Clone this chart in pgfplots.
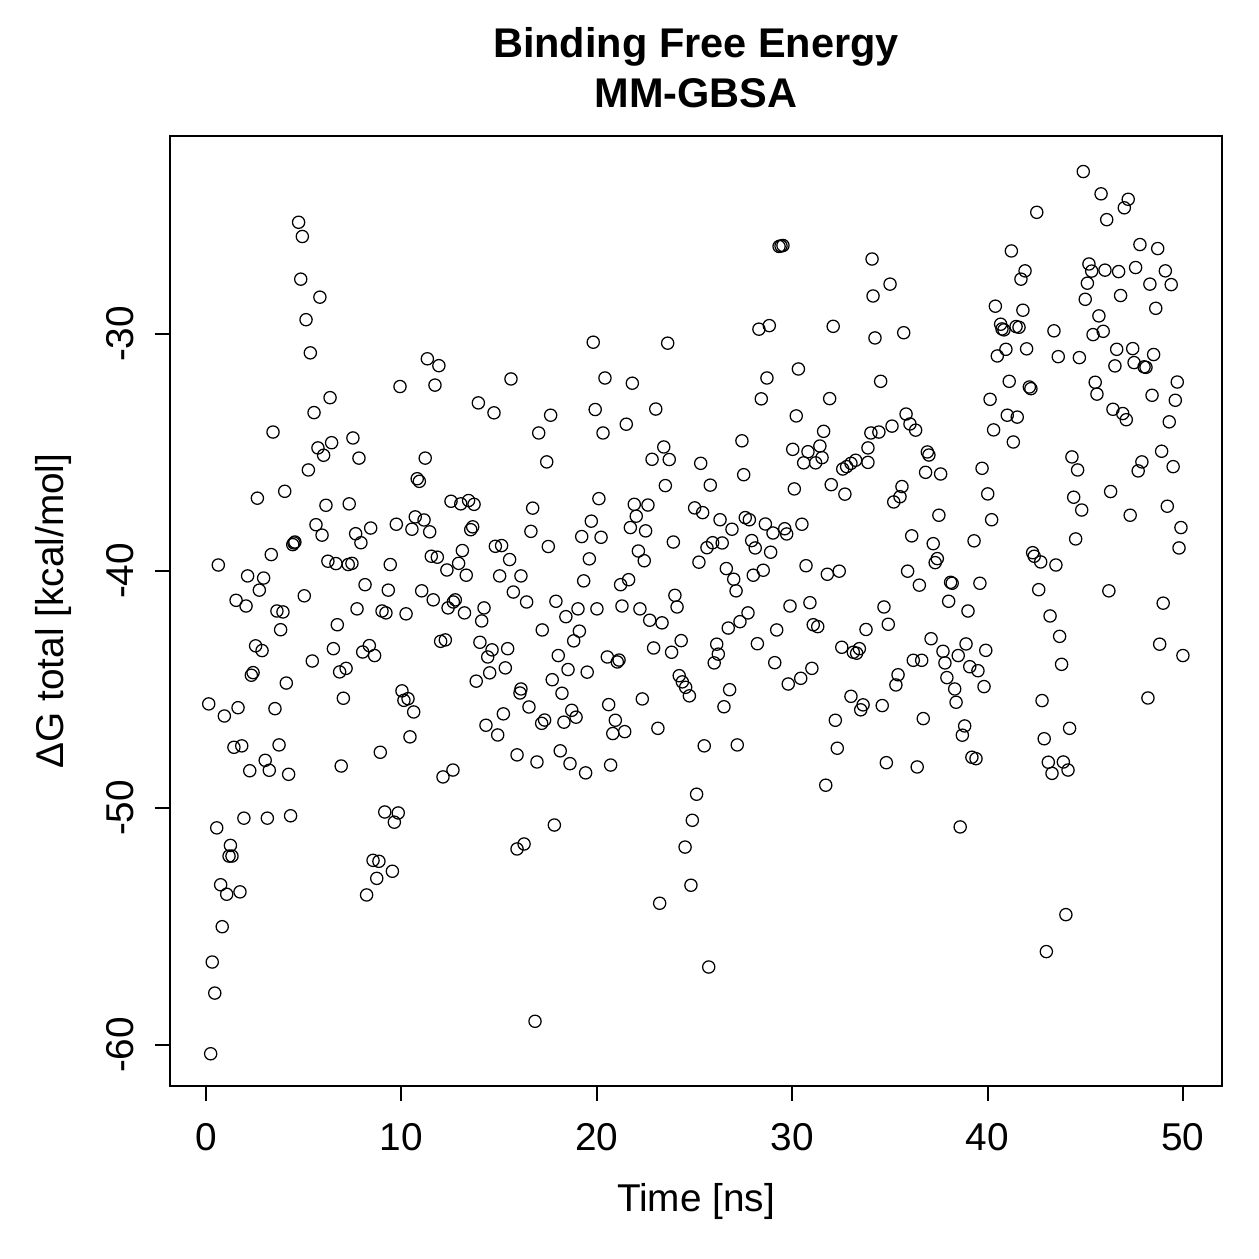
\documentclass[border=0pt]{standalone}
\usepackage{fontspec}
\setmainfont{Liberation Sans}
\usepackage{pgfplots}
\pgfplotsset{compat=1.18}
\usepackage{pgfplotstable}
\pgfplotstableread{
x y
4.74 -25.29
4.93 -25.89
4.85 -27.69
5.83 -28.45
5.12 -29.40
5.34 -30.80
11.33 -31.05
11.92 -31.34
15.61 -31.90
19.82 -30.35
23.63 -30.39
29.33 -26.31
29.43 -26.29
29.53 -26.27
28.30 -29.80
28.83 -29.65
32.10 -29.68
30.32 -31.48
20.42 -31.86
28.71 -31.86
34.09 -26.84
34.14 -28.40
34.24 -30.17
35.01 -27.90
35.71 -29.95
41.22 -26.50
42.52 -24.87
44.90 -23.15
45.81 -24.09
47.20 -24.32
47.00 -24.68
46.10 -25.18
47.80 -26.23
48.71 -26.40
41.92 -27.34
41.71 -27.69
40.40 -28.83
41.81 -29.00
40.67 -29.59
40.74 -29.79
40.84 -29.83
41.46 -29.69
41.61 -29.72
43.40 -29.87
45.19 -27.05
45.33 -27.35
46.01 -27.31
46.71 -27.37
47.58 -27.20
45.11 -27.86
45.00 -28.54
46.81 -28.38
48.31 -27.90
49.10 -27.34
49.40 -27.92
48.61 -28.92
45.70 -29.24
45.40 -30.03
45.92 -29.89
40.94 -30.65
40.50 -30.93
42.00 -30.63
43.62 -30.96
44.70 -31.00
46.61 -30.65
47.43 -30.62
48.50 -30.87
46.52 -31.35
47.50 -31.21
48.01 -31.39
48.11 -31.41
6.35 -32.69
5.53 -33.32
3.43 -34.14
9.93 -32.22
11.72 -32.16
13.94 -32.91
14.74 -33.33
5.73 -34.81
6.43 -34.59
6.02 -35.12
7.52 -34.39
7.83 -35.24
5.24 -35.74
11.22 -35.24
10.81 -36.11
10.92 -36.22
4.03 -36.64
2.63 -36.93
6.14 -37.23
7.33 -37.17
12.54 -37.06
13.04 -37.17
13.44 -37.03
13.72 -37.19
5.63 -38.05
5.94 -38.49
7.66 -38.43
7.93 -38.81
8.43 -38.19
9.74 -38.03
10.71 -37.72
11.16 -37.85
10.54 -38.24
11.45 -38.35
13.65 -38.14
13.55 -38.26
4.55 -38.78
4.44 -38.89
4.50 -38.82
3.34 -39.31
0.63 -39.75
6.24 -39.59
6.65 -39.69
7.28 -39.73
7.47 -39.68
9.43 -39.73
11.53 -39.38
11.84 -39.42
13.12 -39.14
12.93 -39.68
12.33 -39.96
13.32 -40.18
14.81 -38.96
15.13 -38.93
15.54 -39.52
15.03 -40.21
16.12 -40.21
2.13 -40.21
2.95 -40.30
2.73 -40.81
1.54 -41.24
2.05 -41.48
5.03 -41.05
8.14 -40.58
9.33 -40.81
11.04 -40.84
11.63 -41.22
12.76 -41.22
12.66 -41.31
12.39 -41.56
15.73 -40.89
14.23 -41.56
13.23 -41.77
3.63 -41.69
3.94 -41.73
7.73 -41.60
9.01 -41.69
9.21 -41.77
10.24 -41.81
3.82 -42.48
6.72 -42.27
14.11 -42.11
2.54 -43.16
2.87 -43.36
6.52 -43.28
5.44 -43.80
8.36 -43.15
8.02 -43.42
8.63 -43.57
12.01 -42.97
12.25 -42.91
14.02 -43.01
14.64 -43.33
15.44 -43.28
14.42 -43.63
15.32 -44.09
14.52 -44.30
13.83 -44.65
2.41 -44.29
2.32 -44.40
4.11 -44.73
7.17 -44.11
6.84 -44.26
7.03 -45.37
0.14 -45.61
0.94 -46.12
1.64 -45.77
3.53 -45.81
10.03 -45.06
10.34 -45.39
10.13 -45.46
10.63 -45.95
16.12 -44.98
16.07 -45.15
15.22 -46.03
14.33 -46.51
14.93 -46.92
15.92 -47.76
10.44 -47.00
8.92 -47.65
1.43 -47.44
1.83 -47.38
3.74 -47.34
3.03 -47.99
2.24 -48.43
3.24 -48.41
4.23 -48.58
6.92 -48.23
12.64 -48.40
12.13 -48.69
9.15 -50.17
9.84 -50.21
9.64 -50.60
1.94 -50.43
3.14 -50.43
4.33 -50.33
0.55 -50.84
1.25 -51.58
15.92 -51.73
16.28 -51.52
1.18 -52.03
1.33 -52.03
0.75 -53.24
1.06 -53.64
1.74 -53.54
0.83 -55.01
0.32 -56.50
0.45 -57.81
0.24 -60.37
8.55 -52.21
8.85 -52.25
9.54 -52.67
8.74 -52.97
8.22 -53.67
24.52 -51.65
24.82 -53.26
23.22 -54.02
25.73 -56.71
16.84 -59.00
44.01 -54.50
43.01 -56.06
34.70 -41.52
39.00 -41.69
43.20 -41.90
34.92 -42.25
33.78 -42.47
37.11 -42.86
37.72 -43.39
38.90 -43.08
39.91 -43.35
38.50 -43.57
36.20 -43.77
36.63 -43.77
37.82 -43.88
39.09 -44.04
39.51 -44.21
35.42 -44.38
35.31 -44.81
37.92 -44.50
38.32 -44.98
39.82 -44.88
38.39 -45.54
34.61 -45.68
36.71 -46.23
38.83 -46.54
38.71 -46.93
43.69 -42.76
43.79 -43.94
42.79 -45.47
44.20 -46.64
42.90 -47.08
43.11 -48.07
43.88 -48.06
44.12 -48.40
43.30 -48.54
48.81 -43.09
50.00 -43.57
48.21 -45.36
34.82 -48.09
36.40 -48.27
39.20 -47.86
39.41 -47.92
38.60 -50.80
17.21 -42.49
18.42 -41.93
19.04 -41.60
20.01 -41.60
19.11 -42.54
18.82 -42.95
18.03 -43.57
18.53 -44.16
19.51 -44.27
17.72 -44.59
18.22 -45.16
16.53 -45.74
18.72 -45.88
18.94 -46.17
17.18 -46.43
17.33 -46.29
18.32 -46.38
18.13 -47.59
16.94 -48.06
18.63 -48.13
19.43 -48.52
17.83 -50.72
21.29 -41.48
22.21 -41.60
22.71 -42.08
23.34 -42.19
20.54 -43.63
21.05 -43.84
21.14 -43.76
22.91 -43.25
23.83 -43.43
24.32 -42.94
20.61 -45.64
22.33 -45.40
20.95 -46.30
21.43 -46.78
20.82 -46.86
23.13 -46.64
20.71 -48.19
24.22 -44.42
24.38 -44.68
24.55 -44.91
24.74 -45.27
24.11 -41.52
25.50 -47.38
27.19 -47.34
25.11 -49.42
24.89 -50.52
26.14 -43.09
26.22 -43.51
26.01 -43.88
26.80 -45.01
26.51 -45.73
26.73 -42.41
27.33 -42.14
27.74 -41.77
28.22 -43.07
29.21 -42.49
29.11 -43.87
29.80 -44.77
30.44 -44.53
31.01 -44.11
29.89 -41.48
31.08 -42.27
31.31 -42.35
32.54 -43.22
33.30 -43.47
33.44 -43.28
33.13 -43.43
33.01 -45.29
33.63 -45.65
33.51 -45.86
32.21 -46.30
32.31 -47.48
31.72 -49.04
21.82 -32.08
28.42 -32.74
31.92 -32.73
17.64 -33.43
19.92 -33.19
23.02 -33.17
17.03 -34.18
20.32 -34.18
21.51 -33.81
30.21 -33.46
17.44 -35.40
23.43 -34.77
22.83 -35.29
23.71 -35.30
25.32 -35.46
27.43 -34.51
27.52 -35.94
25.81 -36.38
23.51 -36.40
31.61 -34.11
30.03 -34.87
30.81 -34.97
31.42 -34.73
31.53 -35.22
30.59 -35.44
31.20 -35.44
32.59 -35.70
32.79 -35.60
33.01 -35.46
33.25 -35.33
33.88 -34.81
33.88 -35.42
34.03 -34.18
30.11 -36.54
32.00 -36.36
32.70 -36.76
16.72 -37.35
20.11 -36.95
21.92 -37.19
22.62 -37.22
22.02 -37.69
19.72 -37.90
19.23 -38.55
20.22 -38.58
21.72 -38.17
22.50 -38.31
16.63 -38.33
17.52 -38.97
19.62 -39.49
22.13 -39.16
22.43 -39.57
23.92 -38.78
25.01 -37.34
25.42 -37.54
26.31 -37.84
26.92 -38.24
27.60 -37.75
27.81 -37.84
28.63 -38.02
29.02 -38.40
29.62 -38.22
29.72 -38.44
30.50 -38.03
25.64 -39.02
25.93 -38.81
26.42 -38.82
27.93 -38.72
28.11 -39.03
28.90 -39.21
25.23 -39.63
26.63 -39.90
27.01 -40.35
27.13 -40.84
28.01 -40.18
28.52 -39.97
30.71 -39.78
31.80 -40.14
32.41 -40.01
19.33 -40.42
21.22 -40.58
21.63 -40.37
16.41 -41.31
17.91 -41.28
24.00 -41.03
30.91 -41.34
34.53 -32.00
41.11 -32.00
42.14 -32.24
42.22 -32.31
45.51 -32.04
45.60 -32.54
48.42 -32.59
49.71 -32.03
49.61 -32.80
40.13 -32.76
41.01 -33.43
41.52 -33.51
40.31 -34.05
41.32 -34.56
35.83 -33.38
35.11 -33.89
36.03 -33.80
36.32 -34.06
34.44 -34.14
36.92 -34.98
37.00 -35.11
36.83 -35.84
37.60 -35.91
39.72 -35.67
40.01 -36.75
40.21 -37.84
35.62 -36.44
35.52 -36.87
35.20 -37.09
37.51 -37.65
36.12 -38.52
37.22 -38.85
37.43 -39.48
37.32 -39.65
39.31 -38.73
35.91 -40.01
36.51 -40.60
38.11 -40.48
38.19 -40.52
39.61 -40.52
38.01 -41.28
44.32 -35.19
44.61 -35.74
46.42 -33.18
46.92 -33.36
47.10 -33.62
49.30 -33.71
48.91 -34.95
47.90 -35.40
47.71 -35.78
49.50 -35.60
46.30 -36.65
44.41 -36.89
44.82 -37.43
47.30 -37.65
49.20 -37.27
49.90 -38.17
49.80 -39.03
44.51 -38.65
42.31 -39.23
42.39 -39.38
42.72 -39.62
43.50 -39.75
42.62 -40.79
46.21 -40.84
48.99 -41.36
}\gbsa
\begin{document}
\begin{tikzpicture}[x=1pt,y=1pt]
\path[use as bounding box] (0,0) rectangle (503.6,503.6);
\begin{axis}[
  at={(68pt,69.2pt)}, anchor=south west,
  scale only axis, width=420.8pt, height=380pt,
  xmin=-1.842, xmax=52.0, ymin=-61.73, ymax=-21.65,
  axis line style={line width=1pt},
  xtick={0,10,20,30,40,50}, xticklabels={0,10,20,30,40,50},
  ytick={-60,-50,-40,-30}, yticklabels={-60,-50,-40,-30},
  tick align=outside, xtick pos=bottom, ytick pos=left,
  major tick length=6pt, tick style={line width=0.8pt, black},
  ticklabel style={font=\fontsize{15.5}{18}\selectfont},
  xticklabel style={anchor=base, yshift=-20pt},
  yticklabel style={rotate=90, anchor=base, yshift=8.4pt},
  label style={font=\fontsize{15.5}{18}\selectfont},
  xlabel={Time [ns]},
  xlabel style={at={(axis description cs:0.5,0)}, anchor=base, yshift=-50.4pt},
  ylabel={ΔG total [kcal/mol]},
  ylabel style={at={(axis description cs:0,0.5)}, anchor=base, yshift=42.4pt},
  clip=false,
]
\addplot[only marks, mark=o, mark size=2.45pt, mark options={line width=0.5pt, black}] table[x=x,y=y] {\gbsa};
\end{axis}
\node[font=\fontsize{16.6}{20}\bfseries\selectfont, anchor=base] at (278.4,480.4) {Binding Free Energy};
\node[font=\fontsize{16.6}{20}\bfseries\selectfont, anchor=base] at (278.4,460.4) {MM-GBSA};
\end{tikzpicture}
\end{document}
